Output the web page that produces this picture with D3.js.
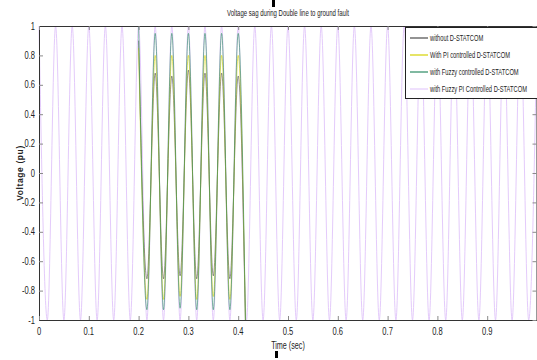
<!doctype html>
<html>
<head>
  <meta charset="utf-8">
  <script src="https://d3js.org/d3.v7.min.js"></script>
  <style>
    body {margin: 0; background: #fff;}
    svg {display: block;}
    text {font-family: "Liberation Sans", Arial, sans-serif; fill: #222;}
  </style>
</head>
<body>
  <svg width="537" height="360"></svg>
  <script>
    // values
    const title = "Voltage sag during Double line to ground fault";
    const xLabel = "Time (sec)";
    const yLabel = "Voltage (pu)";
    const xTicks = [0, 0.1, 0.2, 0.3, 0.4, 0.5, 0.6, 0.7, 0.8, 0.9];
    const xTickLabels = ["0", "0.1", "0.2", "0.3", "0.4", "0.5", "0.6", "0.7", "0.8", "0.9"];
    const yTicks = [-1, -0.8, -0.6, -0.4, -0.2, 0, 0.2, 0.4, 0.6, 0.8, 1];
    const yTickLabels = ["-1", "-0.8", "-0.6", "-0.4", "-0.2", "0", "0.2", "0.4", "0.6", "0.8", "1"];

    const seriesNames = ["without D-STATCOM", "With PI controlled D-STATCOM",
      "with Fuzzy controlled D-STATCOM", "with Fuzzy PI Controlled D-STATCOM"];
    const seriesColors = ["#4a4a4a", "#d6d200", "#2a8a62", "#e4cbfb"];

    // peaks / troughs of the full run (fuzzy PI)
    const fullTimes = [0, 0.0167, 0.0333, 0.05, 0.0667, 0.0833, 0.1, 0.1167, 0.1333, 0.15,
      0.1667, 0.1833, 0.2, 0.2167, 0.2333, 0.25, 0.2667, 0.2833, 0.3, 0.3167,
      0.3333, 0.35, 0.3667, 0.3833, 0.4, 0.4167, 0.4333, 0.45, 0.4667, 0.4833,
      0.5, 0.5167, 0.5333, 0.55, 0.5667, 0.5833, 0.6, 0.6167, 0.6333, 0.65,
      0.6667, 0.6833, 0.7, 0.7167, 0.7333, 0.75, 0.7667, 0.7833, 0.8, 0.8167,
      0.8333, 0.85, 0.8667, 0.8833, 0.9, 0.9167, 0.9333, 0.95, 0.9667, 0.9833, 1];
    const fuzzyPIVals = [1, -1, 1, -1, 1, -1, 1, -1, 1, -1,
      1, -1, 1, -1, 1, -1, 1, -1, 1, -1,
      1, -1, 1, -1, 1, -1, 1, -1, 1, -1,
      1, -1, 1, -1, 1, -1, 1, -1, 1, -1,
      1, -1, 1, -1, 1, -1, 1, -1, 1, -1,
      1, -1, 1, -1, 1, -1, 1, -1, 1, -1, 1];

    // peaks / troughs during the fault window
    const faultTimes = [0.2, 0.2167, 0.2333, 0.25, 0.2667, 0.2833, 0.3, 0.3167,
      0.3333, 0.35, 0.3667, 0.3833, 0.4, 0.4145];
    const withoutVals = [0.9, -0.72, 0.68, -0.72, 0.66, -0.7, 0.7, -0.72, 0.68, -0.7, 0.68, -0.72, 0.66, -1];
    const piVals = [0.85, -0.86, 0.8, -0.86, 0.8, -0.84, 0.8, -0.86, 0.8, -0.84, 0.8, -0.86, 0.8, -1];
    const fuzzyVals = [1, -0.93, 0.95, -0.93, 0.95, -0.92, 0.95, -0.93, 0.95, -0.93, 0.95, -0.93, 0.95, -1];

    const svg = d3.select("svg");
    const x = d3.scaleLinear().domain([0, 1]).range([39, 537]);
    const y = d3.scaleLinear().domain([-1, 1]).range([320, 26]);

    const line = d3.line()
      .x(d => x(d[0]))
      .y(d => y(d[1]))
      .curve(d3.curveMonotoneX);

    const plot = svg.append("g");

    // full-length lavender trace underneath
    plot.append("path")
      .attr("d", line(d3.zip(fullTimes, fuzzyPIVals)))
      .attr("fill", "none")
      .attr("stroke", seriesColors[3])
      .attr("stroke-width", 1);

    const fault = [withoutVals, piVals, fuzzyVals];
    fault.forEach((vals, i) => {
      plot.append("path")
        .attr("d", line(d3.zip(faultTimes, vals)))
        .attr("fill", "none")
        .attr("stroke", seriesColors[i])
        .attr("stroke-opacity", 0.6)
        .attr("stroke-width", 1);
    });

    // narrow text helper (the original uses a condensed face)
    function narrow(g, tx, ty, str, size, sx, anchor) {
      return g.append("text")
        .attr("transform", `translate(${tx},${ty}) scale(${sx},1)`)
        .attr("text-anchor", anchor || "start")
        .attr("font-size", size)
        .text(str);
    }

    // axes, ticks pointing inward
    const styleAxis = g => {
      g.select(".domain").attr("stroke", "#333");
      g.selectAll(".tick line").attr("stroke", "#8a8a8a");
    };

    const left = svg.append("g")
      .attr("transform", "translate(39,0)")
      .call(d3.axisLeft(y).tickValues(yTicks).tickSize(-4).tickFormat(""))
      .call(styleAxis);
    yTicks.forEach((v, i) => narrow(left, -4, y(v) + 3.5, yTickLabels[i], 10.5, 0.72, "end"));

    const bottom = svg.append("g")
      .attr("transform", "translate(0,320)")
      .call(d3.axisBottom(x).tickValues(xTicks).tickSize(-4).tickFormat(""))
      .call(styleAxis);
    xTicks.forEach((v, i) => narrow(bottom, x(v), 15, xTickLabels[i], 10.5, 0.72, "middle"));

    svg.append("g")
      .attr("transform", "translate(0,26)")
      .call(d3.axisTop(x).tickValues(xTicks).tickSize(-4).tickFormat(""))
      .call(styleAxis);

    svg.append("g")
      .attr("transform", "translate(536.5,0)")
      .call(d3.axisRight(y).tickValues(yTicks).tickSize(-4).tickFormat(""))
      .call(styleAxis);

    // titles
    narrow(svg, 288, 16, title, 9, 0.67, "middle");
    narrow(svg, 288, 349, xLabel, 10, 0.72, "middle");

    svg.append("text")
      .attr("transform", "translate(23,173) rotate(-90)")
      .attr("text-anchor", "middle")
      .attr("font-size", 8.5)
      .attr("font-weight", "bold")
      .attr("fill", "#333")
      .attr("letter-spacing", 0.6)
      .text(yLabel);

    // small black marks at top and bottom
    svg.append("rect").attr("x", 272).attr("y", 0).attr("width", 3).attr("height", 7).attr("fill", "#000");
    svg.append("rect").attr("x", 275).attr("y", 351).attr("width", 3).attr("height", 7).attr("fill", "#000");

    // legend
    const legend = svg.append("g");
    legend.append("rect")
      .attr("x", 405.5).attr("y", 27.5)
      .attr("width", 140).attr("height", 71)
      .attr("fill", "#fff")
      .attr("stroke", "#222");

    seriesNames.forEach((name, i) => {
      const ly = 38 + i * 17;
      legend.append("line")
        .attr("x1", 410).attr("x2", 428)
        .attr("y1", ly).attr("y2", ly)
        .attr("stroke", seriesColors[i])
        .attr("stroke-width", 1.2);
      narrow(legend, 430, ly + 3, name, 9, 0.64);
    });
  </script>
</body>
</html>
